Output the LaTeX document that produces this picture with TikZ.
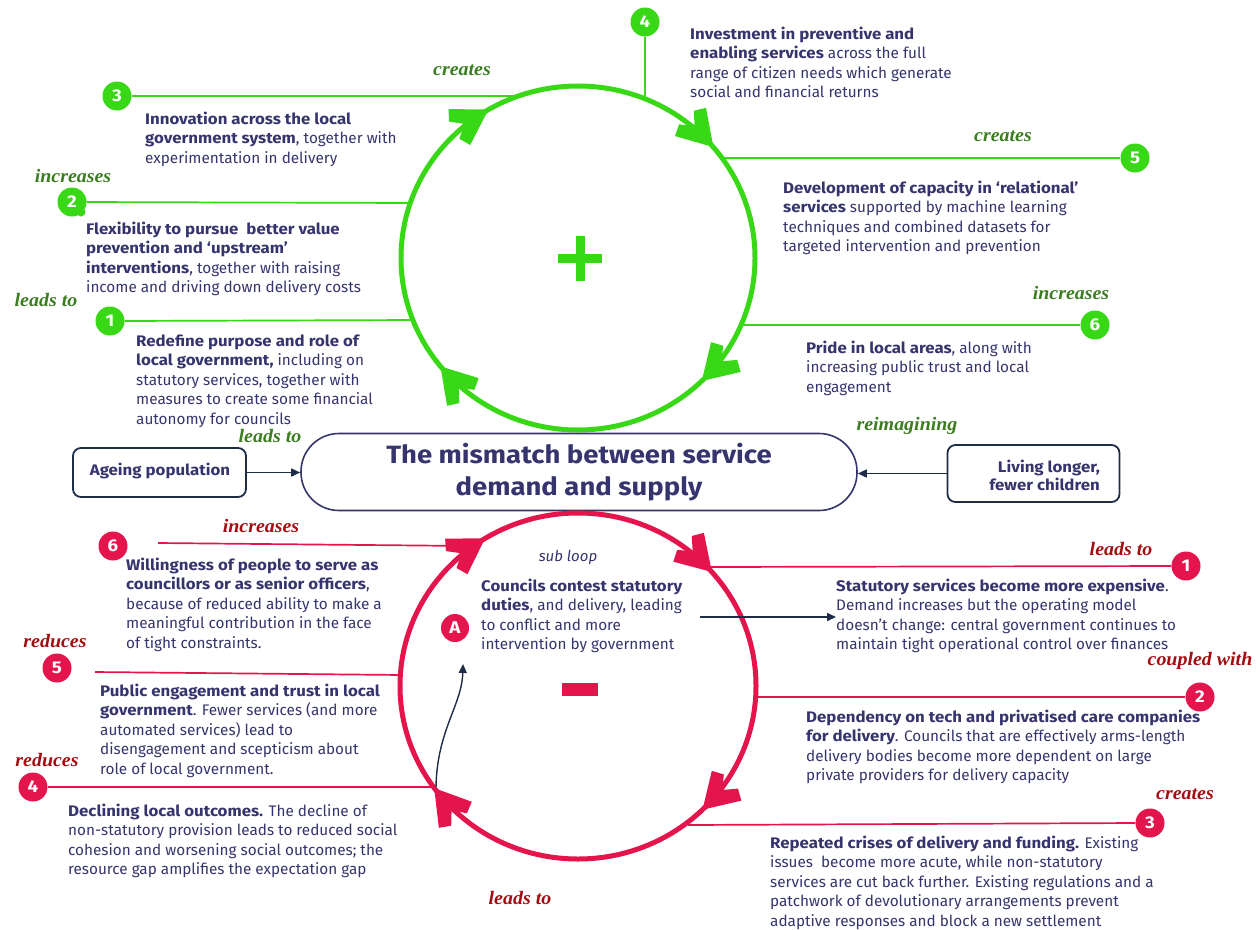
\documentclass[tikz,border=0pt]{standalone}
\usepackage{fontspec}
\setmainfont{Fira Sans}[BoldFeatures={FakeStretch=1.1}]
\newfontfamily\labfont{Liberation Serif}[FakeStretch=1.05]
\usetikzlibrary{arrows.meta,decorations.markings}

\definecolor{loopgreen}{HTML}{38D816}
\definecolor{loopred}{HTML}{E4144C}
\definecolor{labgreen}{HTML}{3C7D22}
\definecolor{labred}{HTML}{A30D12}
\definecolor{navy}{HTML}{35346D}
\definecolor{darknavy}{HTML}{1E2D47}

% chevron marker used for the direction of travel round a loop
\newcommand{\loopchevron}[1]{\fill[#1] (4,0) -- (-30,21) -- (-36,10) -- (-24,0) -- (-36,-10) -- (-30,-21) -- cycle;}

\tikzset{
  body/.style={anchor=north west, align=left, inner sep=0pt, text=navy, yshift=-1.5pt,
    font=\fontsize{15.3}{19.5}\selectfont},
  glabel/.style={inner sep=0pt, text=labgreen, font=\labfont\bfseries\itshape\fontsize{19}{20}\selectfont},
  rlabel/.style={inner sep=0pt, text=labred, font=\labfont\bfseries\itshape\fontsize{19}{20}\selectfont},
  numbase/.style={circle, inner sep=0pt, minimum size=29pt, text=white,
    font=\bfseries\fontsize{17}{17}\selectfont},
  gnum/.style={numbase, fill=loopgreen},
  rnum/.style={numbase, fill=loopred},
  gline/.style={draw=loopgreen, line width=1.7pt},
  rline/.style={draw=loopred, line width=1.7pt},
  gloop/.style={draw=loopgreen, line width=5pt},
  rloop/.style={draw=loopred, line width=5pt},
  flowarrow/.style={draw=darknavy, line width=1.6pt, -{Triangle[length=9pt, width=8pt]}},
  cause/.style={draw=darknavy, line width=1.8pt, rounded corners=8pt, inner sep=0pt},
  causetext/.style={inner sep=0pt, text=navy, align=right, font=\bfseries\fontsize{15.3}{18}\selectfont}
}

\begin{document}
\begin{tikzpicture}[x=1pt, y=-1pt]
\useasboundingbox (0,0) rectangle (1257,929);

% ---------- reinforcing loop (+) ----------
\node[gnum] (g1) at (110,321) {1};
\node[gnum] (g2) at (72,202) {2};
\node[gnum] (g3) at (117,96) {3};
\node[gnum] (g4) at (645,22) {4};
\node[gnum] (g5) at (1135,158) {5};
\node[gnum] (g6) at (1095,325) {6};
\fill[loopgreen] (81,212) circle[radius=4.5];

\coordinate (g1c) at (414,320);
\coordinate (g2c) at (410,203);
\coordinate (g3c) at (520,96);
\coordinate (g4c) at (645,101);
\coordinate (g5c) at (722,158);
\coordinate (g6c) at (740,325);

\draw[gline] (g1.east) -- (g1c);
\draw[gline] (g2.east) -- (g2c);
\draw[gline] (g3.east) -- (g3c);
\draw[gline] (g4.south) -- (g4c);
\draw[gline] (g5c) -- (g5.west);
\draw[gline] (g6c) -- (g6.west);

\coordinate (gc) at (578,258);
\draw[gloop, postaction={decorate}, decoration={markings,
    mark=at position 0.122 with {\loopchevron{loopgreen}},
    mark=at position 0.389 with {\loopchevron{loopgreen}},
    mark=at position 0.661 with {\loopchevron{loopgreen}},
    mark=at position 0.886 with {\loopchevron{loopgreen}}}]
  (gc) ellipse[x radius=177, y radius=172];
\fill[loopgreen] (558,254) rectangle (602,263);
\fill[loopgreen] (575.5,236) rectangle (584.5,281);

\node[glabel] (lg3) at (462,70) {creates};
\node[glabel] (lg2) at (73,176) {increases};
\node[glabel] (lg1) at (46,300) {leads to};
\node[glabel] (lg5) at (1003,136) {creates};
\node[glabel] (lg6) at (1071,293) {increases};
\node[glabel] (lgc) at (270,436) {leads to};
\node[glabel] (lgr) at (907,426) {reimagining};

\node[body] (tg4) at (690,25) {\textbf{Investment in preventive and}\\
  \textbf{enabling services} across the full\\
  range of citizen needs which generate\\
  social and financial returns};
\node[body] (tg3) at (145,110) {\textbf{Innovation across the local}\\
  \textbf{government system}, together with\\
  experimentation in delivery};
\node[body] (tg2) at (86,220) {\textbf{Flexibility to pursue\ \ better value}\\
  \textbf{prevention and ‘upstream’}\\
  \textbf{interventions}, together with raising\\
  income and driving down delivery costs};
\node[body] (tg1) at (136,333) {\textbf{Redefine purpose and role of}\\
  \textbf{local government,} including on\\
  statutory services, together with\\
  measures to create some financial\\
  autonomy for councils};
\node[body] (tg5) at (783,179) {\textbf{Development of capacity in ‘relational’}\\
  \textbf{services} supported by machine learning\\
  techniques and combined datasets for\\
  targeted intervention and prevention};
\node[body] (tg6) at (806,339) {\textbf{Pride in local areas}, along with\\
  increasing public trust and local\\
  engagement};

% ---------- central problem ----------
\node[draw=navy, line width=1.6pt, rounded corners=38pt, minimum width=556pt,
  minimum height=77pt, inner sep=0pt, align=center, text=navy,
  font=\bfseries\fontsize{25}{32}\selectfont] (core) at (579,472)
  {The mismatch between service\\demand and supply};
\node[cause, minimum width=173pt, minimum height=49pt] (age) at (159.5,472.5) {};
\node[causetext] (agetext) at (160,471) {Ageing population};
\node[cause, minimum width=172pt, minimum height=57pt] (live) at (1033.5,473.5) {};
\node[causetext, anchor=east] (livetext) at (1100,475) {Living longer,\\fewer children};
\draw[flowarrow] (age.east) -- (core.west |- age.east);
\draw[flowarrow] (live.west) -- (core.east |- live.west);

% ---------- balancing loop (-) ----------
\node[rnum] (r1) at (1186,566) {1};
\node[rnum] (r2) at (1200,697) {2};
\node[rnum] (r3) at (1150,823) {3};
\node[rnum] (r4) at (33,787) {4};
\node[rnum] (r5) at (57,668) {5};
\node[rnum] (r6) at (113,546) {6};
\node[rnum, minimum size=28pt] (ra) at (455,628) {A};

\coordinate (r6s) at (158,543);
\coordinate (r6c) at (470,546);
\coordinate (r5s) at (95,672);
\coordinate (r5c) at (402,675);
\coordinate (r4c) at (436,787);
\coordinate (r1c) at (710,567);
\coordinate (r2c) at (757,697);
\coordinate (r3c) at (688,825);

\draw[rline] (r6s) -- (r6c);
\draw[rline] (r5s) -- (r5c);
\draw[rline] (r4.east) -- (r4c);
\draw[rline] (r1c) -- (r1.west);
\draw[rline] (r2c) -- (r2.west);
\draw[rline] (r3c) -- (r3.west);

\coordinate (rc) at (578,686);
\draw[rloop, postaction={decorate}, decoration={markings,
    mark=at position 0.122 with {\loopchevron{loopred}},
    mark=at position 0.397 with {\loopchevron{loopred}},
    mark=at position 0.658 with {\loopchevron{loopred}},
    mark=at position 0.883 with {\loopchevron{loopred}}}]
  (rc) ellipse[x radius=178, y radius=173];
\fill[loopred] (562,683) rectangle (598,696);

\node[rlabel] (lr6) at (261,526) {increases};
\node[rlabel] (lr5) at (55,641) {reduces};
\node[rlabel] (lr4) at (47,760) {reduces};
\node[rlabel] (lr1) at (1121,549) {leads to};
\node[rlabel] (lr2) at (1200,661) {coupled with};
\node[rlabel] (lr3) at (1185,794) {creates};
\node[rlabel] (lrb) at (520,898) {leads to};

\node[inner sep=0pt, text=navy, font=\itshape\fontsize{15}{16}\selectfont] (sub) at (568,557) {sub loop};

\node[body] (tra) at (481,577) {\textbf{Councils contest statutory}\\
  \textbf{duties}, and delivery, leading\\
  to conflict and more\\
  intervention by government};
\node[body] (tr1) at (836,577) {\textbf{Statutory services become more expensive}.\\
  Demand increases but the operating model\\
  doesn’t change: central government continues to\\
  maintain tight operational control over finances};
\node[body] (tr2) at (806,708) {\textbf{Dependency on tech and privatised care companies}\\
  \textbf{for delivery}. Councils that are effectively arms-length\\
  delivery bodies become more dependent on large\\
  private providers for delivery capacity};
\node[body] (tr3) at (770,834) {\textbf{Repeated crises of delivery and funding.} Existing\\
  issues\ \ become more acute, while non-statutory\\
  services are cut back further. Existing regulations and a\\
  patchwork of devolutionary arrangements prevent\\
  adaptive responses and block a new settlement};
\node[body] (tr6) at (126,556) {\textbf{Willingness of people to serve as}\\
  \textbf{councillors or as senior officers},\\
  because of reduced ability to make a\\
  meaningful contribution in the face\\
  of tight constraints.};
\node[body] (tr5) at (100,682) {\textbf{Public engagement and trust in local}\\
  \textbf{government}. Fewer services (and more\\
  automated services) lead to\\
  disengagement and scepticism about\\
  role of local government.};
\node[body] (tr4) at (68,802) {\textbf{Declining local outcomes.} The decline of\\
  non-statutory provision leads to reduced social\\
  cohesion and worsening social outcomes; the\\
  resource gap amplifies the expectation gap};

% sub loop connectors
\coordinate (subin) at (700,617);
\coordinate (subtip) at (463,664);
\draw[flowarrow] (subin) -- (tr1.west |- subin);
\draw[flowarrow, line width=1.4pt] (r4c) .. controls (437,730) and (462,705) .. (subtip);
\end{tikzpicture}
\end{document}
